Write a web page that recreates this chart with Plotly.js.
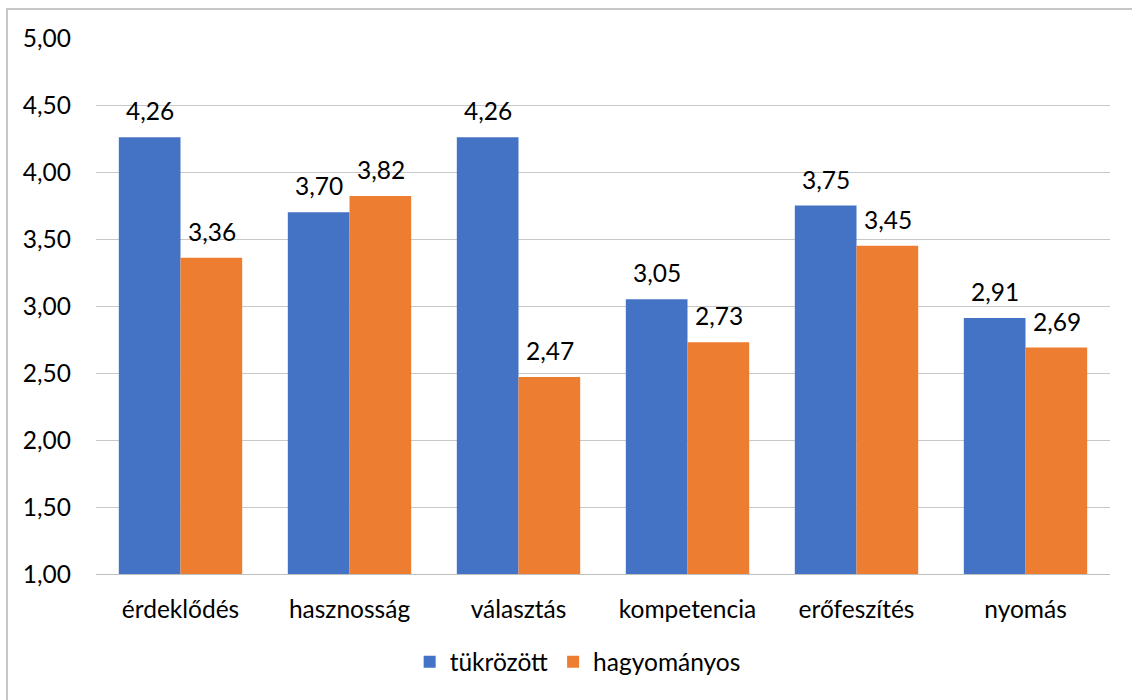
<!DOCTYPE html>
<html>
<head>
<meta charset="utf-8">
<script src="https://cdn.plot.ly/plotly-3.0.1.min.js"></script>
<style>
  html, body { margin: 0; padding: 0; background: #fff; overflow: hidden; }
  #wrap { position: relative; width: 1132px; height: 700px; }
  #chart { position: absolute; left: 0; top: 0; width: 1132px; height: 700px; }
  #frame { position: absolute; left: 6px; top: 8px; width: 1140px; height: 710px;
           border: 2px solid #c6c6c6; box-sizing: border-box; pointer-events: none; }
</style>
</head>
<body>
<div id="wrap">
  <div id="chart"></div>
  <div id="frame"></div>
</div>
<script>
// Motivation scale means by teaching method
const categories = ["érdeklődés", "hasznosság", "választás", "kompetencia", "erőfeszítés", "nyomás"];
const tukrozott = [4.26, 3.70, 4.26, 3.05, 3.75, 2.91];
const hagyomanyos = [3.36, 3.82, 2.47, 2.73, 3.45, 2.69];
const seriesNames = ["tükrözött", "hagyományos"];
const yTicks = [1, 1.5, 2, 2.5, 3, 3.5, 4, 4.5, 5];

const FONT = "Lato, Open Sans, sans-serif";
const FS = 24.5;
const colors = ["#4472C4", "#ED7D31"];

const traces = [tukrozott, hagyomanyos].map((vals, i) => ({
  type: "bar",
  name: seriesNames[i],
  x: categories,
  y: vals,
  marker: { color: colors[i], line: { width: 0 } },
  hoverinfo: "x+y"
}));

// value labels above each bar, offset to the bar's side of the group
const fmt = v => v.toFixed(2).replace(".", ",");
const annotations = [];
[tukrozott, hagyomanyos].forEach((vals, i) => {
  vals.forEach((v, j) => {
    annotations.push({
      x: categories[j], y: v, xref: "x", yref: "y",
      text: fmt(v), showarrow: false,
      xanchor: "center", yanchor: "bottom",
      xshift: i === 0 ? -31 : 31, yshift: 10,
      font: { family: FONT, size: FS, color: "#000" }
    });
  });
});

const layout = {
  width: 1132, height: 700,
  margin: { l: 96, r: 22, t: 38, b: 126 },
  paper_bgcolor: "#fff", plot_bgcolor: "#fff",
  separators: ", ",
  barmode: "group",
  bargap: 0.27, bargroupgap: 0,
  font: { family: FONT, size: FS, color: "#000" },
  showlegend: true,
  legend: {
    orientation: "h", x: 0.475, xanchor: "center", y: -0.164, yanchor: "middle",
    font: { family: FONT, size: FS, color: "#000" },
    itemwidth: 30, traceorder: "normal"
  },
  xaxis: {
    type: "category",
    showgrid: false, zeroline: false,
    showline: true, linecolor: "#bfbfbf", linewidth: 1,
    ticks: "", ticklabelstandoff: 14,
    tickfont: { family: FONT, size: FS, color: "#000" }
  },
  yaxis: {
    range: [1, 5],
    tickvals: yTicks,
    ticktext: yTicks.map(fmt),
    showgrid: true, gridcolor: "#c8c8c8", gridwidth: 1,
    zeroline: false, showline: false, ticks: "",
    ticklabelstandoff: 24,
    tickfont: { family: FONT, size: FS, color: "#000" }
  },
  annotations: annotations
};

Plotly.newPlot("chart", traces, layout, { displayModeBar: false, staticPlot: true });
</script>
</body>
</html>
